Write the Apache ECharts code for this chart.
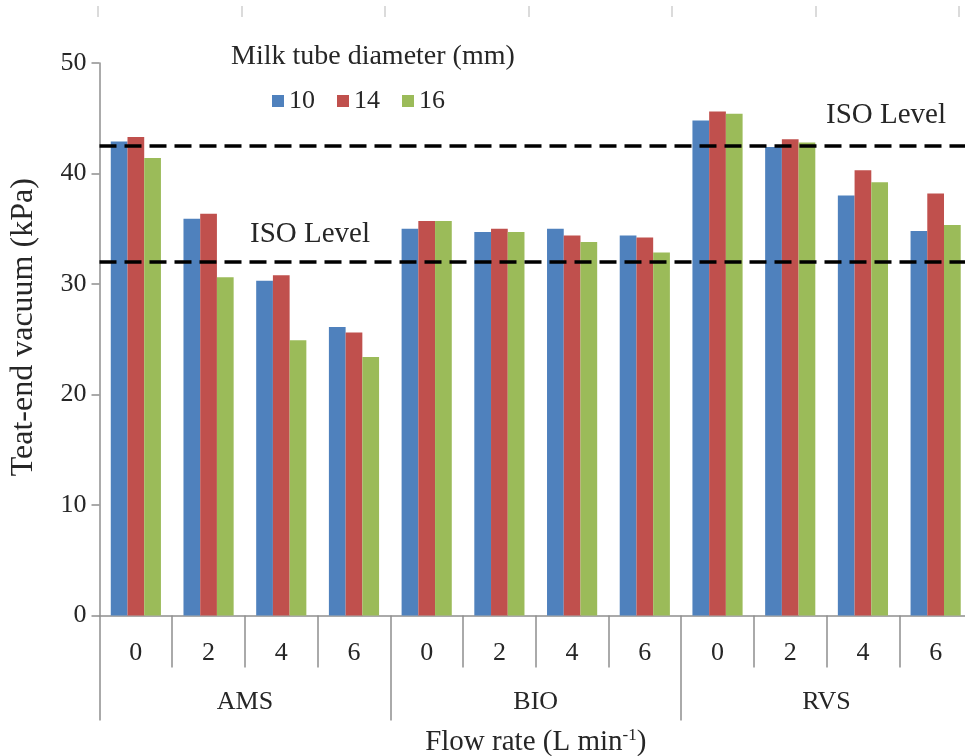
<!DOCTYPE html>
<html><head><meta charset="utf-8">
<script src="https://cdn.jsdelivr.net/npm/echarts@6/dist/echarts.min.js"></script>
<style>html,body{margin:0;padding:0;background:#fff}#c{width:965px;height:756px}</style>
</head><body><div id="c"></div>
<script>
const flowRates = ['0','2','4','6','0','2','4','6','0','2','4','6'];
const systems = ['AMS','BIO','RVS'];
const seriesNames = ['10','14','16'];
const d10 = [42.9, 35.9, 30.3, 26.1, 35.0, 34.7, 35.0, 34.4, 44.8, 42.4, 38.0, 34.8];
const d14 = [43.3, 36.35, 30.8, 25.6, 35.7, 35.0, 34.4, 34.2, 45.6, 43.1, 40.3, 38.2];
const d16 = [41.4, 30.6, 24.9, 23.4, 35.7, 34.7, 33.8, 32.85, 45.4, 42.8, 39.2, 35.35];
const isoLevels = [42.5, 32.0];
const yMin = 0, yMax = 50, yStep = 10;

const FONT = "'Liberation Serif','Times New Roman',serif";
const TXT = '#262626';
const AX = '#8f8f8f';
const colors = ['#4F81BD','#C0504D','#9BBB59'];

const chart = echarts.init(document.getElementById('c'), null, {renderer:'canvas'});
const values = [d10, d14, d16];

const option = {
  animation: false,
  backgroundColor: '#fff',
  textStyle: {fontFamily: FONT, color: TXT},
  title: {
    text: 'Milk tube diameter (mm)',
    left: 226, top: 38,
    textStyle: {fontFamily: FONT, fontSize: 28, fontWeight: 'normal', color: TXT}
  },
  legend: {
    data: seriesNames,
    left: 267, top: 83,
    icon: 'rect', itemWidth: 12, itemHeight: 12, itemGap: 22,
    textStyle: {fontFamily: FONT, fontSize: 26, color: TXT}
  },
  grid: {left: 99.5, right: -7, top: 63, bottom: 140.5, containLabel: false, outerBoundsMode: 'none'},
  xAxis: [
    {
      type: 'category', data: flowRates, position: 'bottom',
      axisLine: {show: true, lineStyle: {color: AX, width: 1.5}},
      axisTick: {show: true, interval: 0, length: 52, lineStyle: {color: AX, width: 1.5}},
      axisLabel: {interval: 0, margin: 25, fontFamily: FONT, fontSize: 26, color: TXT}
    },
    {
      type: 'category', data: systems, position: 'bottom',
      axisLine: {show: false},
      axisTick: {show: true, interval: 0, length: 105, lineStyle: {color: AX, width: 1.5}},
      axisLabel: {interval: 0, margin: 74, fontFamily: FONT, fontSize: 26, color: TXT},
      name: '{a|Flow rate (L min}{s|-1}{a|)}',
      nameLocation: 'middle', nameGap: 112,
      nameTextStyle: {
        rich: {
          a: {fontFamily: FONT, fontSize: 29, color: TXT, lineHeight: 30},
          s: {fontFamily: FONT, fontSize: 17, color: TXT, verticalAlign: 'top', lineHeight: 30, padding: [0,0,10,0]}
        }
      }
    }
  ],
  yAxis: {
    type: 'value', min: yMin, max: yMax, interval: yStep,
    axisLine: {show: true, lineStyle: {color: AX, width: 1.5}},
    axisTick: {show: true, inside: false, length: 8, lineStyle: {color: AX, width: 1.5}},
    splitLine: {show: false},
    axisLabel: {margin: 13, fontFamily: FONT, fontSize: 26, color: TXT},
    name: 'Teat-end vacuum (kPa)', nameLocation: 'middle', nameGap: 60,
    nameTextStyle: {fontFamily: FONT, fontSize: 32, color: TXT, padding: [0, 0, 0, 24]}
  },
  series: seriesNames.map((n, i) => ({
    name: n, type: 'bar', xAxisIndex: 0, data: values[i],
    itemStyle: {color: colors[i]},
    barGap: '0%', barCategoryGap: '31%',
    markLine: i === 0 ? {
      silent: true, symbol: ['none','none'],
      lineStyle: {color: '#000', width: 3.5, type: [17, 8]},
      label: {show: false},
      data: isoLevels.map(v => ({yAxis: v}))
    } : undefined,
    z: 2
  }))
};
chart.setOption(option);

const upperY = chart.convertToPixel({yAxisIndex: 0}, isoLevels[0]);
const lowerY = chart.convertToPixel({yAxisIndex: 0}, isoLevels[1]);
const stray = [98, 242, 385, 529, 672, 816, 959].map(x => ({
  type: 'line', shape: {x1: x, y1: 6, x2: x, y2: 17},
  style: {stroke: '#cfcfcf', lineWidth: 1.5}, silent: true
}));
chart.setOption({
  graphic: [
    {type: 'text', left: 826, top: upperY - 45, silent: true,
     style: {text: 'ISO Level', font: '29px ' + FONT, fill: TXT}},
    {type: 'text', left: 250, top: lowerY - 42, silent: true,
     style: {text: 'ISO Level', font: '29px ' + FONT, fill: TXT}}
  ].concat(stray)
});
</script>
</body></html>
